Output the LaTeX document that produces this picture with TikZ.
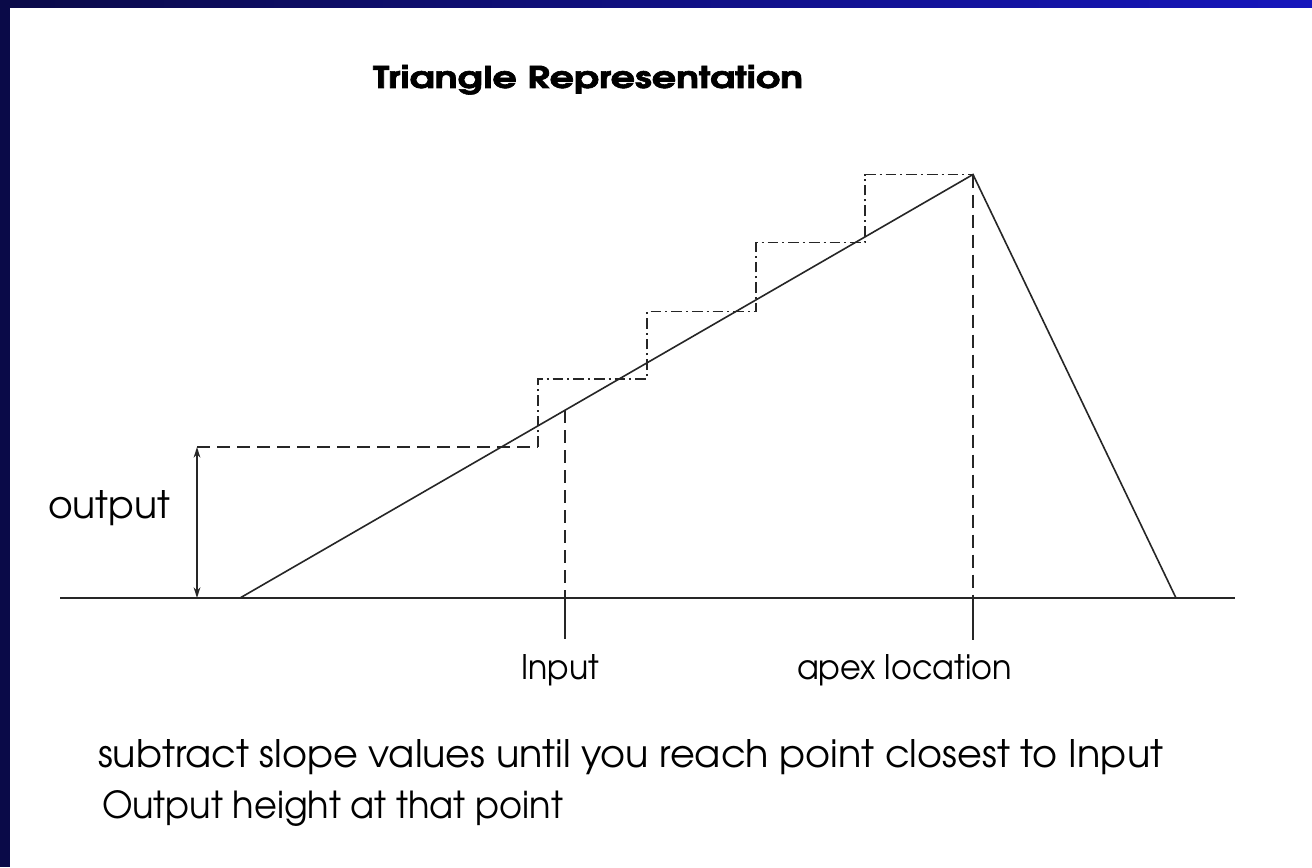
\documentclass[tikz,border=0pt]{standalone}
\usepackage{fontspec}
\usepackage{graphicx}
\setmainfont{texgyreadventor}[Extension=.otf, UprightFont=*-regular, BoldFont=*-bold]
\newfontfamily\titlefont{texgyreadventor-bold.otf}[FakeBold=2]
\usetikzlibrary{arrows.meta}
\definecolor{navy}{HTML}{0A0A48}
\definecolor{topblue}{HTML}{1616BC}
\newlength\pxu
\setlength\pxu{0.75pt}
\newcommand\fitw[3]{\resizebox{#1\pxu}{#2\pxu}{#3}}
\begin{document}
\begin{tikzpicture}[x=0.75pt,y=-0.75pt,
  lbl/.style={inner sep=0pt, outer sep=0pt, anchor=base west, text=black},
  axisline/.style={line width=1.6pt, black!85},
  solidline/.style={line width=1.2pt, black!85},
  dashline/.style={line width=1.4pt, black!85, dash pattern=on 10pt off 5pt},
  dashdotline/.style={line width=1.4pt, black!85, dash pattern=on 8pt off 3pt on 1.5pt off 3pt},
  arrowline/.style={line width=1.4pt, black!85, {Stealth[length=8pt,width=5pt]}-{Stealth[length=8pt,width=5pt]}}]
\useasboundingbox (0,0) rectangle (1312,867);
\fill[white] (0,0) rectangle (1312,867);
\shade[left color=navy, right color=topblue] (0,0) rectangle (1312,8);
\fill[navy] (0,0) rectangle (10,867);

% key points
\coordinate (axL) at (60,598);
\coordinate (axR) at (1235,598);
\coordinate (start) at (240,598);
\coordinate (apex) at (973,174.5);
\coordinate (foot) at (1176,598);
\coordinate (outB) at (197,598);
\coordinate (outT) at (197,447);
\coordinate (s0) at (538,447);
\coordinate (s1a) at (538,379);
\coordinate (s1b) at (647,379);
\coordinate (s2a) at (647,311.5);
\coordinate (s2b) at (756,311.5);
\coordinate (s3a) at (756,242.5);
\coordinate (s3b) at (865,242.5);
\coordinate (s4a) at (865,174.5);
\coordinate (inTop) at (565,410);
\coordinate (inAx) at (565,598);
\coordinate (inTick) at (565,639);
\coordinate (apAx) at (973,598);
\coordinate (apTick) at (973,640);

% axis and triangle
\draw[axisline] (axL) -- (axR);
\draw[solidline] (start) -- (apex) -- (foot);

% staircase
\draw[dashline] (outT) -- (s0);
\draw[dashdotline] (s0) -- (s1a) -- (s1b) -- (s2a) -- (s2b) -- (s3a) -- (s3b) -- (s4a) -- (apex);

% output arrow
\draw[arrowline] (outB) -- (outT);

% input and apex markers
\draw[dashline] (inTop) -- (inAx);
\draw[axisline] (inAx) -- (inTick);
\draw[dashline] (apex) -- (apAx);
\draw[axisline] (apAx) -- (apTick);

% labels
\node[lbl] (title) at (373,88) {\fitw{430}{23}{\titlefont Triangle Representation}};
\node[lbl] (outlbl) at (48,518) {\fitw{122}{28}{output}};
\node[lbl] (inlbl) at (521,679) {\fitw{78}{25}{Input}};
\node[lbl] (aplbl) at (797,679) {\fitw{215}{25}{apex location}};
\node[lbl] (line1) at (98,767) {\fitw{1065}{28}{subtract slope values until you reach point closest to Input}};
\node[lbl] (line2) at (102,818) {\fitw{461}{28}{Output height at that point}};
\end{tikzpicture}
\end{document}
